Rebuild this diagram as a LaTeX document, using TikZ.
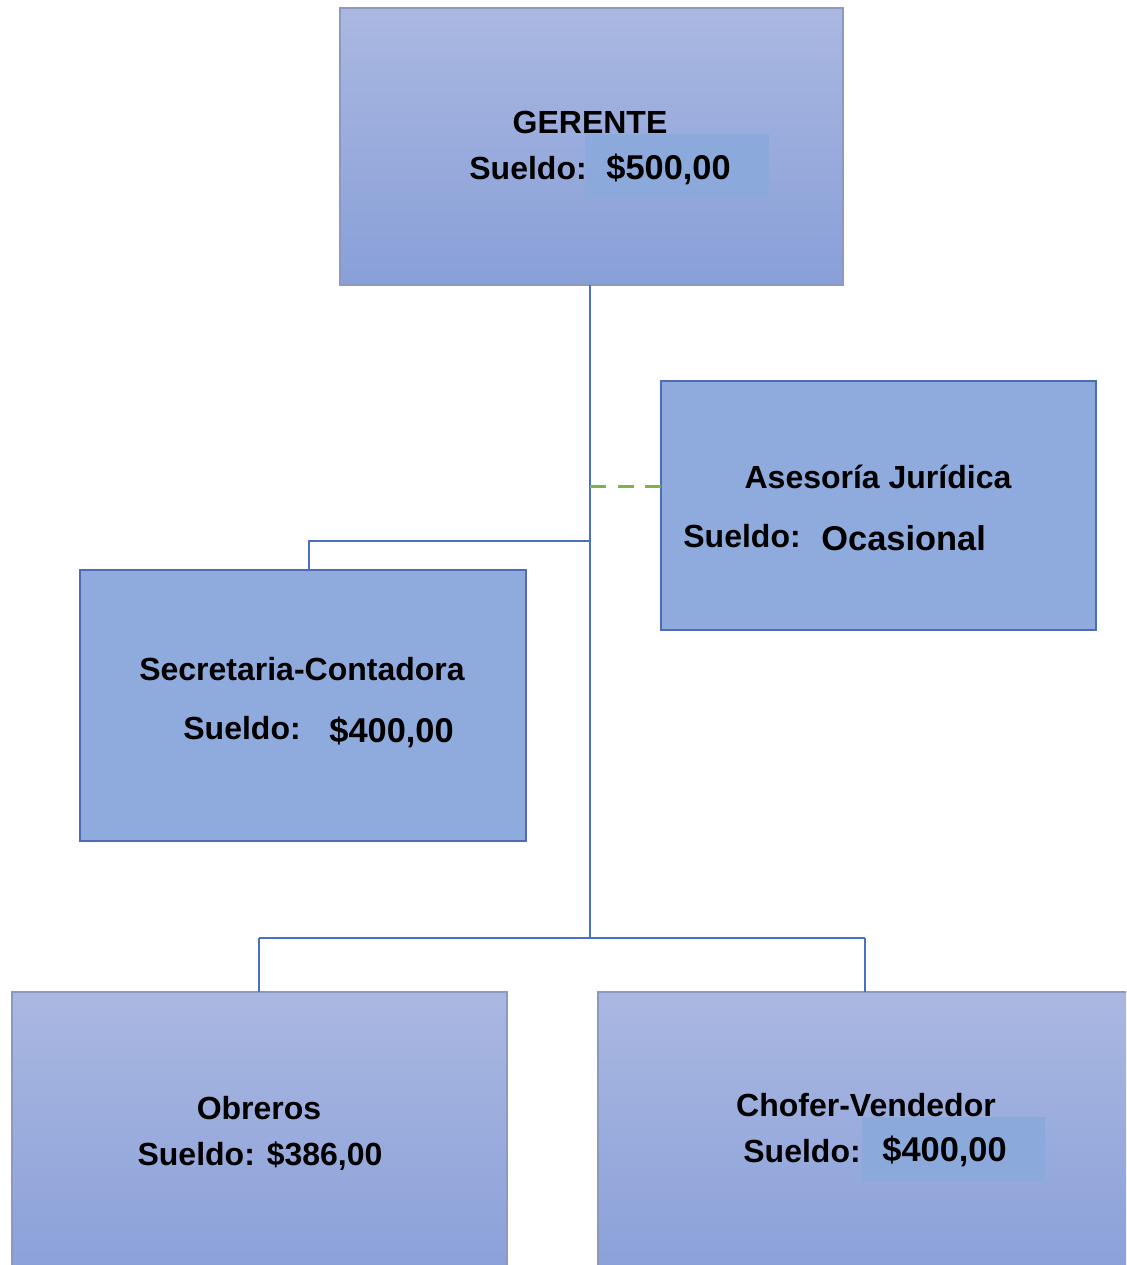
\documentclass[tikz,border=0pt]{standalone}
\usepackage{fontspec}
\setmainfont{Liberation Sans}
\begin{document}
\begin{tikzpicture}[x=0.5pt,y=-0.5pt,
  gradbox/.style={rectangle, inner sep=0pt, outer sep=0pt, draw=boxgray, line width=1pt,
    top color=gradtop, bottom color=gradbot},
  flatbox/.style={rectangle, inner sep=0pt, outer sep=0pt, draw=boxblue, line width=1pt,
    fill=flatfill},
  hilite/.style={rectangle, inner sep=0pt, outer sep=0pt, fill=hifill},
  title/.style={font=\fontsize{16}{18}\selectfont\bfseries, inner sep=0pt, anchor=base},
  label/.style={font=\fontsize{16}{18}\selectfont\bfseries, inner sep=0pt, anchor=base west},
  amount/.style={font=\fontsize{17.2}{20}\selectfont\bfseries, inner sep=0pt, anchor=base west},
  link/.style={draw=linkblue, line width=1.4pt},
  thinlink/.style={draw=linkblue, line width=1pt},
  advice/.style={draw=dashgreen, line width=1.5pt, dash pattern=on 8pt off 5.75pt}
]
\definecolor{gradtop}{HTML}{AAB8E1}
\definecolor{gradbot}{HTML}{889FD8}
\definecolor{flatfill}{HTML}{8FABDD}
\definecolor{hifill}{HTML}{8CA9DC}
\definecolor{boxgray}{HTML}{8E99C2}
\definecolor{boxblue}{HTML}{4E6CB3}
\definecolor{linkblue}{HTML}{4A70C2}
\definecolor{dashgreen}{HTML}{7DB34B}

\useasboundingbox (0,0) rectangle (1126,1265);
\clip (0,0) rectangle (1126,1265);

% boxes
\node[gradbox, minimum width=251.5pt, minimum height=138.5pt] (ger) at (591.5,146.5) {};
\node[flatbox, minimum width=217.5pt, minimum height=124.5pt] (ase) at (878.5,505.5) {};
\node[flatbox, minimum width=223pt, minimum height=135.5pt] (sec) at (303,705.5) {};
\node[gradbox, minimum width=247.5pt, minimum height=150pt] (obr) at (259.5,1142) {};
\node[gradbox, minimum width=270pt, minimum height=150pt] (cho) at (868,1142) {};

% highlighted amounts
\node[hilite, minimum width=92pt, minimum height=31.5pt] (hger) at (677,165.5) {};
\node[hilite, minimum width=91.5pt, minimum height=32.5pt] (hcho) at (953.5,1149.5) {};

% junction points
\coordinate (jdash) at (590,486);
\coordinate (jsec) at (590,541);
\coordinate (jbot) at (590,938);
\coordinate (secup) at (309,541);
\coordinate (obrup) at (259,938);
\coordinate (choup) at (865,938);

% connectors
\draw[link] (ger.south -| jbot) -- (jbot);
\draw[link] (jsec) -- (secup) -- (sec.north -| secup);
\draw[advice] (ase.west |- jdash) -- (jdash);
\draw[thinlink] (obrup) -- (choup);
\draw[thinlink] (obrup) -- (obr.north -| obrup);
\draw[thinlink] (choup) -- (cho.north -| choup);

% texts
\node[title] (tger) at (590,133) {GERENTE};
\node[label] (sger) at (469,179) {Sueldo:};
\node[amount] (ager) at (606,179) {\$500,00};

\node[title] (tase) at (878,488) {Asesoría Jurídica};
\node[label] (sase) at (683,547) {Sueldo:};
\node[amount] (aase) at (821,550) {Ocasional};

\node[title] (tsec) at (302,680) {Secretaria-Contadora};
\node[label] (ssec) at (183,739) {Sueldo:};
\node[amount] (asec) at (329,742) {\$400,00};

\node[title] (tobr) at (259,1119) {Obreros};
\node[title] (sobr) at (260,1165) {Sueldo: \$386,00};

\node[title] (tcho) at (866,1116) {Chofer-Vendedor};
\node[label] (scho) at (743,1162) {Sueldo:};
\node[amount] (acho) at (882,1161) {\$400,00};
\end{tikzpicture}
\end{document}
